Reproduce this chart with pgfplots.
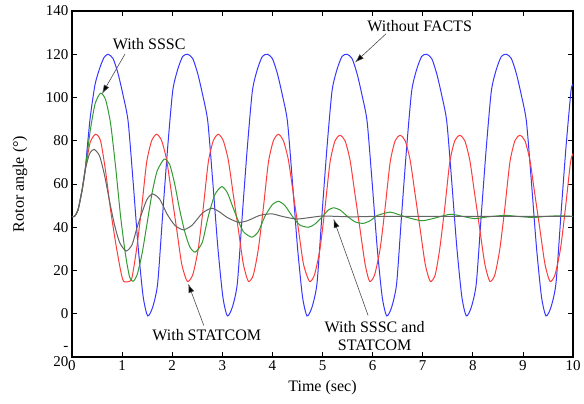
\documentclass[border=0pt]{standalone}
\usepackage{fontspec}
\setmainfont{Liberation Serif}
\usepackage{pgfplots}
\pgfplotsset{compat=1.18}
\usetikzlibrary{arrows.meta}

\definecolor{cblue}{RGB}{55,55,255}
\definecolor{cred}{RGB}{255,60,60}
\definecolor{cgreen}{RGB}{50,155,50}
\definecolor{cgray}{RGB}{100,100,100}

\begin{document}
\begin{tikzpicture}
\useasboundingbox (-72pt,-47pt) rectangle (512pt,357pt);
\begin{axis}[
    at={(0,0)}, anchor=south west,
    scale only axis,
    width=501pt, height=346pt,
    xmin=0, xmax=10, ymin=-20, ymax=140,
    xtick={0,1,2,3,4,5,6,7,8,9,10},
    ytick={-20,0,20,40,60,80,100,120,140},
    yticklabels={{\shortstack[r]{-\\[3pt]20}},0,20,40,60,80,100,120,140},
    /pgf/number format/assume math mode=true,
    tick label style={font=\fontsize{15}{18}\selectfont},
    xlabel={Time (sec)},
    ylabel={Rotor angle (°)},
    every axis x label/.style={at={(axis description cs:0.5,0)}, yshift=-31pt, anchor=center, font=\fontsize{16}{19}\selectfont},
    every axis y label/.style={at={(axis description cs:0,0.5)}, xshift=-52pt, rotate=90, anchor=center, font=\fontsize{16}{19}\selectfont},
    major tick length=5pt,
    tick style={black, line width=0.8pt},
    axis line style={line width=1.3pt},
    every axis plot/.append style={line width=1pt, mark=none, smooth, tension=0.4},
]
% without FACTS
\addplot[cblue] coordinates {
(0,45)(0.05,45)(0.12,48)(0.2,57)(0.26,66)(0.36,90)(0.46,106)(0.56,114)(0.64,118.5)(0.72,120)
(0.82,118)(0.92,111)(1.02,101)(1.12,89)(1.22,61)(1.32,31)(1.42,8)(1.51,-1)
(1.61,3)(1.71,14)(1.81,46)(1.91,77)(2.01,103)(2.11,113)(2.21,119)(2.31,120)(2.41,118)(2.51,111)(2.61,101)(2.71,89)(2.81,61)(2.91,31)(3.01,8)(3.10,-1)
(3.20,3)(3.30,14)(3.40,46)(3.50,77)(3.60,103)(3.70,113)(3.80,119)(3.90,120)(4.00,118)(4.10,111)(4.20,101)(4.30,89)(4.40,61)(4.50,31)(4.60,8)(4.69,-1)
(4.79,3)(4.89,14)(4.99,46)(5.09,77)(5.19,103)(5.29,113)(5.39,119)(5.49,120)(5.59,118)(5.69,111)(5.79,101)(5.89,89)(5.99,61)(6.09,31)(6.19,8)(6.28,-1)
(6.38,3)(6.48,14)(6.58,46)(6.68,77)(6.78,103)(6.88,113)(6.98,119)(7.08,120)(7.18,118)(7.28,111)(7.38,101)(7.48,89)(7.58,61)(7.68,31)(7.78,8)(7.87,-1)
(7.97,3)(8.07,14)(8.17,46)(8.27,77)(8.37,103)(8.47,113)(8.57,119)(8.67,120)(8.77,118)(8.87,111)(8.97,101)(9.07,89)(9.17,61)(9.27,31)(9.37,8)(9.46,-1)
(9.56,3)(9.66,14)(9.76,46)(9.86,77)(9.96,103)(10,106)
};
% with STATCOM
\addplot[cred] coordinates {
(0,45)(0.05,45)(0.12,48)(0.2,57)(0.26,66)(0.36,79)(0.47,83)(0.57,80)(0.67,66)(0.77,48)(0.87,33)(0.97,20)(1.03,15)(1.15,15)(1.2,17)
(1.29,30)(1.39,49)(1.49,70)(1.59,80)(1.69,83)(1.79,80)(1.89,71)(1.99,55)(2.09,39)(2.19,23)(2.30,15)(2.41,18)
(2.52,30)(2.62,49)(2.72,70)(2.82,80)(2.92,83)(3.02,80)(3.12,71)(3.22,55)(3.32,39)(3.42,23)(3.52,15)(3.62,18)
(3.72,30)(3.82,49)(3.92,70)(4.02,80)(4.12,83)(4.22,80)(4.32,71)(4.42,55)(4.52,39)(4.62,23)(4.74,15)(4.84,18)
(4.95,30)(5.05,49)(5.15,70)(5.25,80)(5.35,82.5)(5.45,80)(5.55,71)(5.65,55)(5.75,39)(5.85,23)(5.94,15)(6.04,18)
(6.15,30)(6.25,49)(6.35,70)(6.45,80)(6.55,82.5)(6.65,80)(6.75,71)(6.85,55)(6.95,39)(7.05,23)(7.15,15)(7.25,18)
(7.34,30)(7.44,49)(7.54,70)(7.64,80)(7.74,82.5)(7.84,80)(7.94,71)(8.04,55)(8.14,39)(8.24,23)(8.34,15)(8.44,18)
(8.54,30)(8.64,49)(8.74,70)(8.84,80)(8.94,82.5)(9.04,80)(9.14,71)(9.24,55)(9.34,39)(9.44,23)(9.54,15)(9.64,18)
(9.75,30)(9.85,49)(9.95,70)(10,74)
};
% with SSSC
\addplot[cgreen] coordinates {
(0,45)(0.05,45)(0.12,48)(0.2,57)(0.26,66)(0.36,84)(0.46,97)(0.57,102)(0.67,99)(0.77,88)(0.87,68)(0.97,45)(1.07,27)(1.15,17)(1.22,15)
(1.3,18)(1.4,28)(1.5,42)(1.6,56)(1.7,66)(1.84,71.5)(1.95,69)(2.05,60)(2.15,48)(2.25,38)(2.35,31)(2.46,28.5)
(2.6,33)(2.72,45)(2.85,55)(2.99,58.8)(3.1,56)(3.2,50)(3.3,44)(3.42,38)(3.59,35.4)
(3.72,38)(3.85,45)(4.0,50.5)(4.12,52)(4.25,50)(4.4,45)(4.55,41)(4.72,40)
(4.85,41.5)(5.0,45)(5.12,48)(5.22,49)(5.35,48)(5.5,45)(5.65,42.5)(5.81,41.8)
(5.95,43)(6.1,45.5)(6.35,47)(6.5,46)(6.7,44.5)(6.98,43)(7.2,44)(7.55,46)(7.8,45)(8.04,44)
(8.3,44.8)(8.64,45.5)(8.9,45)(9.2,44.5)(9.45,45)(9.74,45.3)(10,45)
};
% with SSSC and STATCOM
\addplot[cgray] coordinates {
(0,45)(0.05,45)(0.12,48)(0.2,57)(0.26,66)(0.35,74)(0.44,76)(0.55,73)(0.65,64)(0.75,52)(0.85,41)(0.95,33)(1.08,29)
(1.2,32)(1.3,40)(1.4,47)(1.5,53)(1.61,55.4)(1.75,53)(1.9,46)(2.05,41)(2.22,38.8)
(2.4,41)(2.6,46.5)(2.79,48.8)(2.95,47)(3.1,44.5)(3.32,42.3)(3.5,43)(3.75,45.5)(3.99,46.2)
(4.2,45)(4.48,43.8)(4.75,44.5)(5.0,45.2)(5.3,45)(5.6,44.8)(6,45)(7,45)(8,45)(9,45)(10,45)
};

\begin{scope}[font=\fontsize{16}{18}\selectfont]
\draw[black!70, line width=0.6pt, -{Latex[length=9pt,width=6pt,fill=black]}] (axis cs:1.06,120.2) -- (axis cs:0.6,101.7);
\node at (axis cs:1.54,124.8) {With SSSC};
\draw[black!70, line width=0.6pt, -{Latex[length=9pt,width=6pt,fill=black]}] (axis cs:6.27,129.5) -- (axis cs:5.65,116.2);
\node at (axis cs:6.94,133) {Without FACTS};
\draw[black!70, line width=0.6pt, -{Latex[length=9pt,width=6pt,fill=black]}] (axis cs:2.63,-5.4) -- (axis cs:2.32,13.9);
\node at (axis cs:2.69,-10) {With STATCOM};
\draw[black!70, line width=0.6pt, -{Latex[length=9pt,width=6pt,fill=black]}] (axis cs:5.91,-0.8) -- (axis cs:5.22,43.9);
\node[align=center] at (axis cs:6.04,-10.5) {With SSSC and\\STATCOM};
\end{scope}
\end{axis}
\end{tikzpicture}
\end{document}
